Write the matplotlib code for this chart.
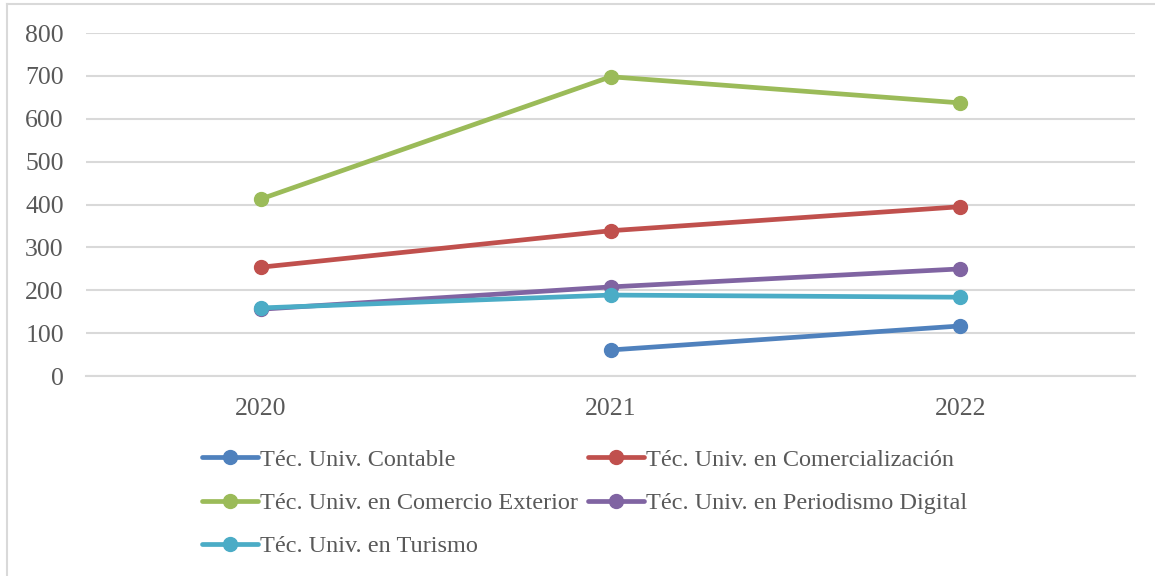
import numpy as np
import matplotlib.pyplot as plt
from matplotlib.lines import Line2D

years = ["2020", "2021", "2022"]
contable = [np.nan, 61, 117]
comercializacion = [254, 339, 395]
comercio_exterior = [413, 698, 637]
periodismo = [156, 208, 250]
turismo = [159, 189, 184]

series = [
    ("Téc. Univ. Contable", contable, "#4f81bd"),
    ("Téc. Univ. en Comercialización", comercializacion, "#c0504d"),
    ("Téc. Univ. en Comercio Exterior", comercio_exterior, "#9bbb59"),
    ("Téc. Univ. en Periodismo Digital", periodismo, "#8064a2"),
    ("Téc. Univ. en Turismo", turismo, "#4bacc6"),
]

plt.rcParams["font.family"] = ["Liberation Serif", "DejaVu Serif"]

fig = plt.figure(figsize=(11.55, 5.76), dpi=100)
ax = fig.add_axes([0.0745, 0.347, 0.9085, 0.5957])

x = np.arange(len(years))
handles = []
for label, vals, color in series:
    h, = ax.plot(x, vals, color=color, lw=3.4, marker="o", markersize=10,
                 solid_capstyle="round", label=label)
    handles.append(h)

ax.set_xlim(-0.5, 2.5)
ax.set_ylim(0, 800)
ax.set_yticks(range(0, 801, 100))
ax.set_xticks(x)
ax.set_xticklabels(years)
ax.grid(axis="y", color="#d9d9d9", lw=1.5)
ax.set_axisbelow(True)
for s in ax.spines.values():
    s.set_visible(False)
ax.spines["bottom"].set_visible(True)
ax.spines["bottom"].set_color("#d9d9d9")
ax.spines["bottom"].set_linewidth(1.5)
ax.tick_params(length=0, labelsize=18.5, labelcolor="#595959")
ax.tick_params(axis="y", pad=16)
ax.tick_params(axis="x", pad=16)

order = [0, 2, 4, 1, 3]
fig.legend([handles[i] for i in order], [series[i][0] for i in order],
           loc="upper left", bbox_to_anchor=(0.1665, 0.238), ncol=2,
           frameon=False, fontsize=17.5, labelcolor="#595959",
           handlelength=2.3, handletextpad=0.1, columnspacing=0.4,
           labelspacing=0.88, borderaxespad=0)

# chart border (top and left visible)
fig.add_artist(Line2D([7 / 1155, 7 / 1155], [0, 1 - 4 / 576],
                      transform=fig.transFigure, color="#d9d9d9", lw=1.5))
fig.add_artist(Line2D([7 / 1155, 1], [1 - 4 / 576, 1 - 4 / 576],
                      transform=fig.transFigure, color="#d9d9d9", lw=1.5))

fig.savefig("out.png", dpi=100)
